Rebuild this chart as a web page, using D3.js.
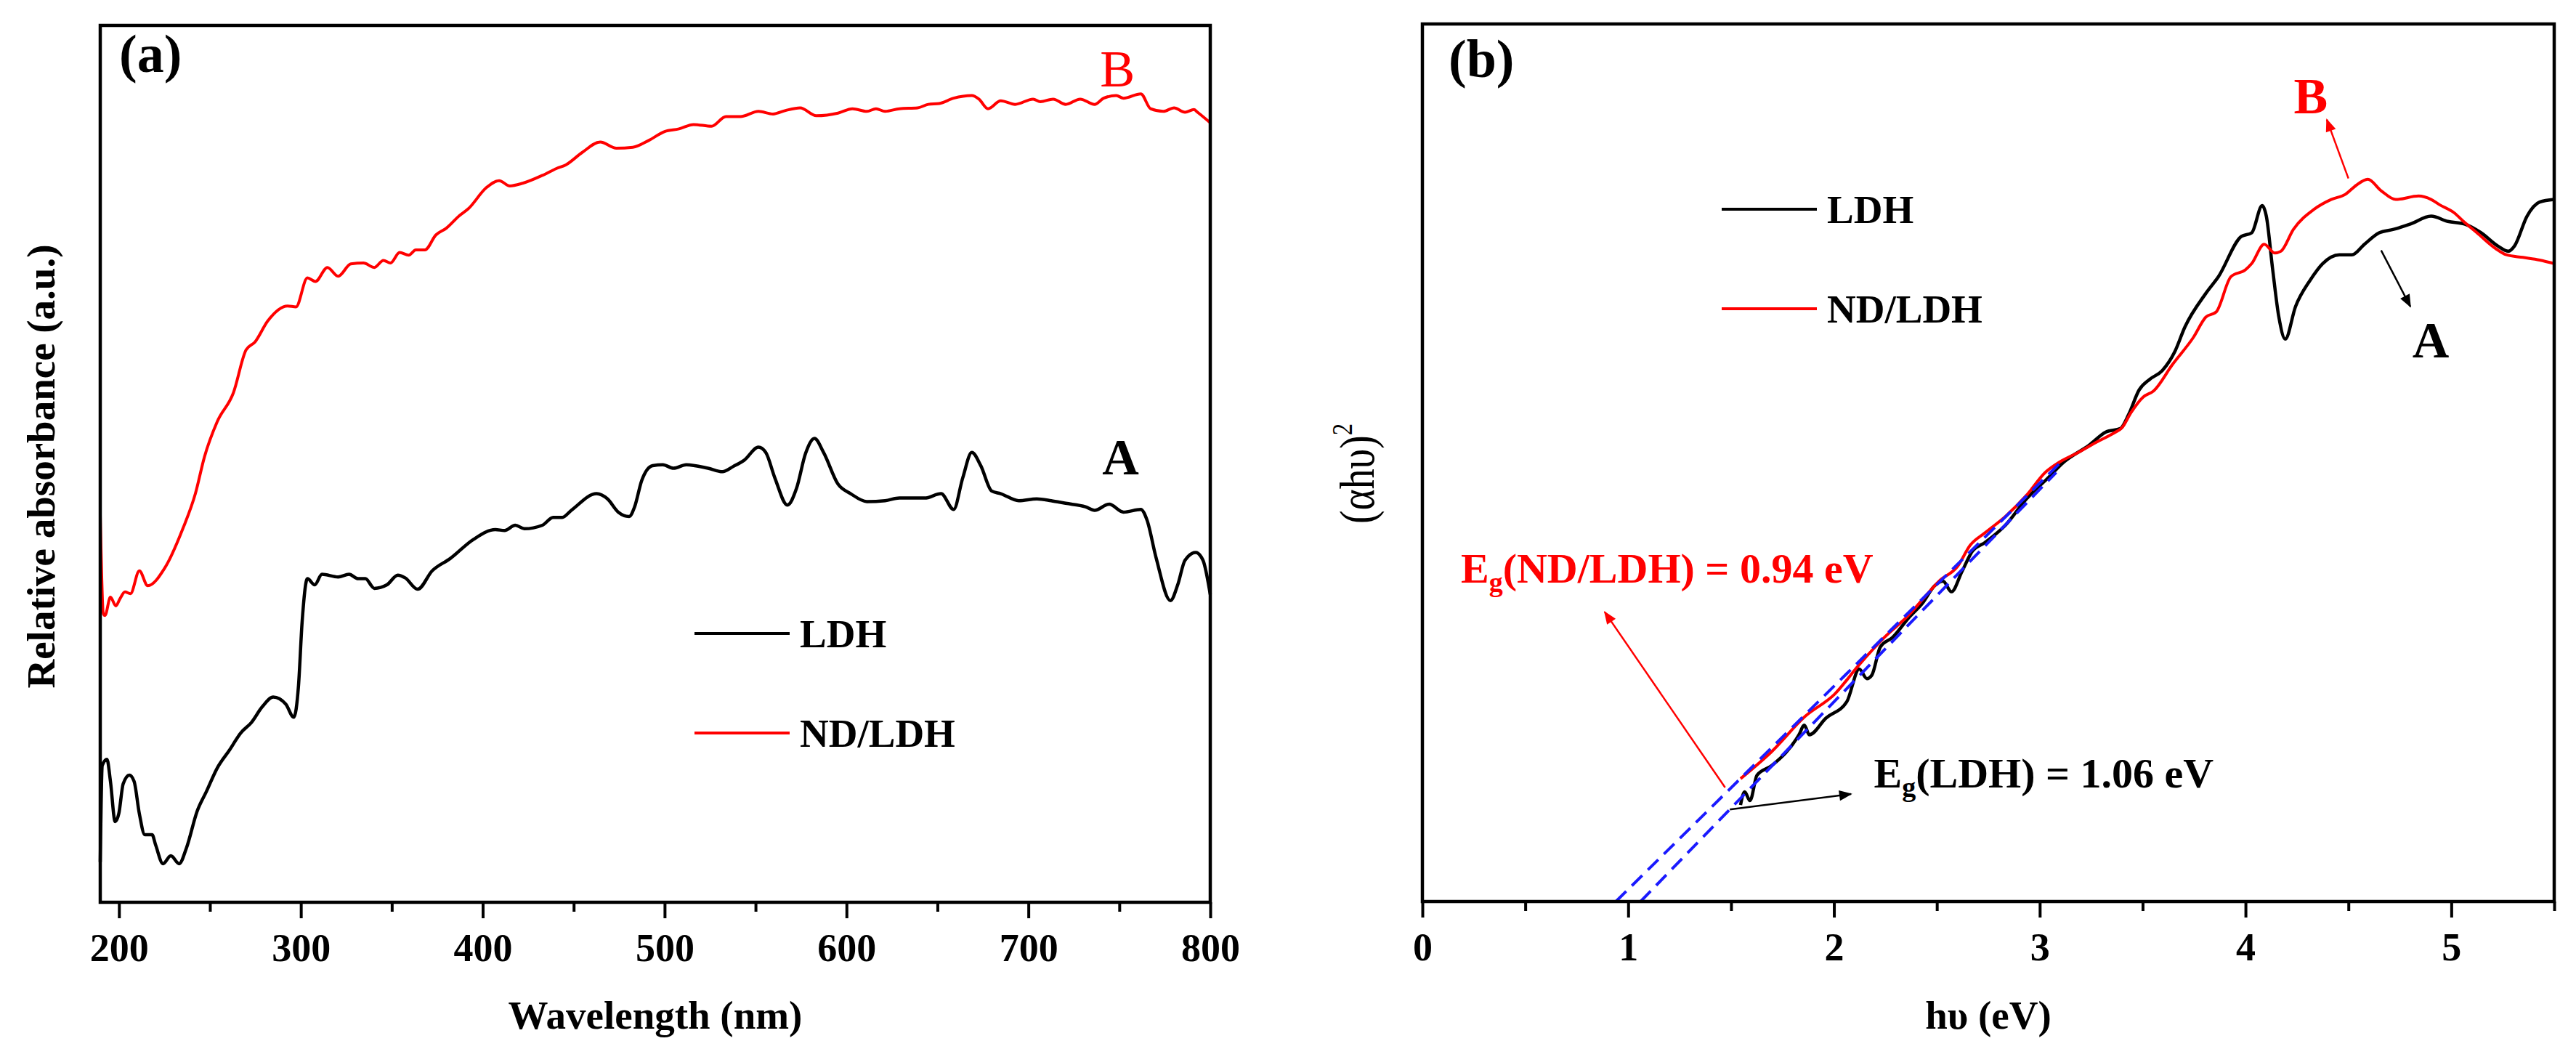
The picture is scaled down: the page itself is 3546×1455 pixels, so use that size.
<!DOCTYPE html>
<html>
<head>
<meta charset="utf-8">
<script src="https://cdn.jsdelivr.net/npm/d3@7"></script>
<style>
  body { margin: 0; background: #fff; }
  text { font-family: "Liberation Serif", "Times New Roman", serif; }
</style>
</head>
<body>
<div id="chart"></div>
<script>
// ---- panel (a): relative absorbance vs wavelength ----
ticksA = [200, 300, 400, 500, 600, 700, 800]
minorA = [250, 350, 450, 550, 650, 750]

ldhA = [[189.7,4.6],[190.8,15.6],[193.4,16.3],[195.3,13.8],[197.9,9.2],[199.9,10.1],[202.3,13.5],[205.7,14.5],[208.3,13.8],[211.2,10.1],[214.2,7.7],[218.2,7.7],[220.2,6.5],[224.2,4.4],[228.5,5.3],[233.1,4.4],[237.1,6.2],[243,10.4],[248,12.6],[254,15.3],[260.9,17.4],[266.9,19.3],[272.8,20.5],[278.8,22.3],[284.8,23.4],[291.7,22.6],[296.1,21.1],[298.7,24.7],[300.7,32.0],[303.6,36.9],[307.6,36.2],[311.6,37.4],[320.5,37.1],[326.5,37.4],[331.5,36.9],[335.5,36.9],[340.4,35.8],[347.3,36.2],[353.3,37.3],[357.3,37.0],[364.2,35.7],[372.2,37.8],[382.1,39.2],[395,41.4],[406.9,42.5],[412,42.4],[417.9,43.0],[422.9,42.6],[432.8,43.0],[438.7,43.9],[443.7,43.9],[448.7,44.7],[462.6,46.6],[468.6,46.0],[474.5,44.5],[480.5,44.0],[483.5,45.1],[487.4,48.1],[493.4,49.8],[499,49.9],[504.9,49.5],[511.9,49.9],[523.8,49.5],[531.8,49.1],[537.7,49.7],[543.7,50.4],[551.6,51.9],[555.6,51.3],[560.6,48.4],[567.5,45.3],[572.5,47.2],[577.5,51.2],[582.4,52.9],[587.4,51.3],[595.3,47.7],[602.3,46.6],[611.2,45.7],[621.2,45.8],[629.1,46.1],[643,46.1],[652,46.6],[658.9,44.8],[663.9,48.4],[668.9,51.3],[673.8,49.8],[679.8,46.9],[684.8,46.6],[694.7,45.8],[704.6,46.0],[712.5,45.8],[720.5,45.5],[731.4,45.1],[736.4,44.7],[744.4,45.4],[752.3,44.5],[761.8,44.8],[765.2,43.6],[770.2,39.3],[778.1,34.4],[782.1,36.2],[786.1,39.0],[792,39.9],[796,39.0],[800,35.1]]

ndA = [[189.7,44.2],[191.4,32.9],[192.3,32.7],[195.3,34.8],[198.3,33.8],[200.5,34.6],[203.3,35.4],[206.3,35.2],[211.2,37.8],[215.8,36.1],[225.1,38.1],[235.1,42.6],[242,46.6],[247,50.8],[254,54.8],[262.9,58.1],[269.9,63.0],[274.8,63.9],[281.8,66.3],[292.7,68.0],[297.3,67.9],[303.6,71.2],[308,70.8],[314.6,72.4],[320.5,71.4],[327.5,72.8],[334.4,72.9],[340.4,72.4],[345.4,73.2],[349.3,72.9],[354.3,74.1],[359.3,73.8],[363.2,74.4],[368.2,74.4],[374.2,76.1],[380.1,76.9],[387.1,78.3],[392.1,79.1],[402,81.5],[409,82.3],[414.9,81.7],[421.9,82.0],[432.8,82.9],[440.7,83.7],[445.7,84.1],[454.6,85.5],[464.6,86.7],[473.5,86.0],[482.5,86.1],[491.4,86.9],[500,87.9],[507.9,88.2],[515.9,88.7],[525.8,88.5],[533.7,89.6],[541.7,89.6],[551.6,90.2],[559.6,89.9],[566.5,90.3],[574.5,90.6],[583.4,89.7],[595.3,90.0],[603.3,90.5],[611.2,90.2],[616.2,90.5],[621.2,90.2],[629.1,90.5],[639.1,90.6],[645,91.0],[651,91.1],[658.9,91.7],[668.9,92.0],[672.8,91.6],[677.8,90.5],[684.8,91.4],[692.7,91.0],[702.6,91.6],[706.6,91.3],[713.6,91.6],[720.5,91.0],[728.5,91.6],[736.4,91.0],[741.4,91.7],[748.3,92.0],[752.3,91.7],[761.8,92.2],[767.2,90.5],[774.2,90.2],[780.1,90.6],[786.1,90.1],[791.1,90.4],[793,90.1],[800,88.9]]

// ---- panel (b): Tauc plot ----
ticksB = [0, 1, 2, 3, 4, 5]
minorB = [0.5, 1.5, 2.5, 3.5, 4.5, 5.5]

ldhB = [[1.546,11.0],[1.566,12.5],[1.592,11.5],[1.626,14.4],[1.698,15.5],[1.830,19.0],[1.856,20.1],[1.880,19.0],[1.961,20.9],[2.063,22.8],[2.123,26.5],[2.160,25.4],[2.184,25.8],[2.225,29.0],[2.285,30.1],[2.366,32.4],[2.43,34.0],[2.490,36.0],[2.530,36.5],[2.571,35.3],[2.622,37.6],[2.672,39.9],[2.733,40.9],[2.834,42.9],[2.936,45.9],[3.037,48.2],[3.118,50.1],[3.240,52.0],[3.321,53.5],[3.392,53.9],[3.432,55.5],[3.483,58.3],[3.534,59.5],[3.595,60.5],[3.655,62.6],[3.706,65.5],[3.807,69.3],[3.868,71.2],[3.980,75.8],[4.030,76.2],[4.081,79.3],[4.101,78.1],[4.132,72.0],[4.162,66.6],[4.193,64.1],[4.243,67.8],[4.314,70.8],[4.375,72.7],[4.456,73.7],[4.517,73.7],[4.578,74.9],[4.649,76.2],[4.720,76.6],[4.801,77.2],[4.902,78.1],[4.983,77.5],[5.064,77.2],[5.145,76.2],[5.226,74.7],[5.277,74.1],[5.307,74.7],[5.368,78.1],[5.429,79.7],[5.5,80.0]]

ndB = [[1.546,14.0],[1.698,17.1],[1.860,21.1],[2.002,23.6],[2.123,27.0],[2.245,30.1],[2.366,32.7],[2.43,34.4],[2.510,36.5],[2.601,38.2],[2.662,40.6],[2.733,42.0],[2.834,43.9],[2.936,46.3],[3.027,48.9],[3.098,50.1],[3.189,51.2],[3.280,52.4],[3.361,53.4],[3.40,54.0],[3.443,55.7],[3.503,57.5],[3.554,58.2],[3.645,61.2],[3.747,64.3],[3.807,66.6],[3.858,67.2],[3.929,71.2],[4.0,72.0],[4.030,72.7],[4.091,74.9],[4.142,73.9],[4.172,74.1],[4.233,76.6],[4.334,78.9],[4.416,80.0],[4.486,80.6],[4.537,81.6],[4.594,82.3],[4.659,81.0],[4.730,80.0],[4.841,80.4],[4.902,80.0],[4.943,79.4],[5.013,78.5],[5.064,77.4],[5.125,76.2],[5.216,74.4],[5.267,73.7],[5.348,73.4],[5.429,73.1],[5.5,72.7]]

// linear fits extrapolated to the energy axis
fitND = [[0.94, 0], [3.10, 50.0]]
fitLDH = [[1.06, 0], [3.08, 48.9]]

seriesNames = ["LDH", "ND/LDH"]
seriesColors = ["#000000", "#ff0000"]

const W = 3546, H = 1455;
const svg = d3.select("#chart").append("svg")
  .attr("width", W).attr("height", H);

const defs = svg.append("defs");
[["arrRed", "#ff0000"], ["arrBlack", "#000000"]].forEach(function (m) {
  defs.append("marker")
    .attr("id", m[0])
    .attr("viewBox", "0 0 10 10")
    .attr("refX", 9).attr("refY", 5)
    .attr("markerUnits", "userSpaceOnUse")
    .attr("markerWidth", 24).attr("markerHeight", 18)
    .attr("orient", "auto")
    .append("path")
    .attr("d", "M0,1 L10,5 L0,9 Z")
    .attr("fill", m[1]);
});

xa = d3.scaleLinear().domain([189.7, 800]).range([138, 1666])
ya = d3.scaleLinear().domain([0, 100]).range([1242, 35])
xb = d3.scaleLinear().domain([0, 5.5]).range([1958, 3516])
yb = d3.scaleLinear().domain([0, 100]).range([1241, 33])

function frame(x, y) {
  svg.append("rect")
    .attr("x", x.range()[0]).attr("y", y.range()[1])
    .attr("width", x.range()[1] - x.range()[0])
    .attr("height", y.range()[0] - y.range()[1])
    .attr("fill", "none").attr("stroke", "#000").attr("stroke-width", 4.5);
}

function xAxis(x, y, major, minor, fmt) {
  const g = svg.append("g").attr("transform", "translate(0," + y.range()[0] + ")");
  g.append("g")
    .call(d3.axisBottom(x).tickValues(minor).tickSize(13).tickFormat(""))
    .call(s => s.select(".domain").remove())
    .selectAll("line").attr("stroke-width", 4);
  const mg = g.append("g")
    .call(d3.axisBottom(x).tickValues(major).tickSize(22).tickFormat(fmt))
    .call(s => s.select(".domain").remove());
  mg.selectAll("line").attr("stroke-width", 4);
  mg.selectAll("text")
    .attr("y", 81).attr("dy", 0)
    .attr("font-size", 54).attr("font-weight", "bold")
    .attr("font-family", "Liberation Serif, Times New Roman, serif")
    .attr("fill", "#000");
}

function drawLine(data, x, y, color, w) {
  svg.append("path")
    .datum(data)
    .attr("fill", "none")
    .attr("stroke", color)
    .attr("stroke-width", w)
    .attr("stroke-linejoin", "round")
    .attr("d", d3.line().curve(d3.curveMonotoneX)
      .x(d => x(d[0])).y(d => y(d[1])));
}

function legend(x0, y0) {
  seriesNames.forEach(function (n, i) {
    svg.append("line")
      .attr("x1", x0).attr("x2", x0 + 131)
      .attr("y1", y0 + i * 137).attr("y2", y0 + i * 137)
      .attr("stroke", seriesColors[i]).attr("stroke-width", 4);
    svg.append("text")
      .attr("x", x0 + 145).attr("y", y0 + i * 137 + 19)
      .attr("font-size", 55).attr("font-weight", "bold")
      .text(n);
  });
}

function label(x, y, t, color, size) {
  return svg.append("text")
    .attr("x", x).attr("y", y)
    .attr("font-size", size).attr("font-weight", "bold")
    .attr("fill", color).text(t);
}

function arrow(x, y, p, q, color, id) {
  svg.append("line")
    .attr("x1", x(p[0])).attr("y1", y(p[1]))
    .attr("x2", x(q[0])).attr("y2", y(q[1]))
    .attr("stroke", color).attr("stroke-width", 2.5)
    .attr("marker-end", "url(#" + id + ")");
}

// ---------- panel (a) ----------
drawLine(ldhA, xa, ya, "#000", 4.5)
drawLine(ndA, xa, ya, "#ff0000", 4)
frame(xa, ya)
xAxis(xa, ya, ticksA, minorA, d3.format("d"))
legend(956, 872)
label(164, 99, "(a)", "#000", 74)
label(xa(739.4), ya(93.0), "B", "#ff0000", 72).attr("font-weight", "normal")
label(xa(740.6), ya(48.8), "A", "#000", 70)

svg.append("text")
  .attr("x", 902).attr("y", 1416)
  .attr("text-anchor", "middle")
  .attr("font-size", 55).attr("font-weight", "bold")
  .text("Wavelength (nm)")
svg.append("text")
  .attr("transform", "translate(75,642) rotate(-90)")
  .attr("text-anchor", "middle")
  .attr("font-size", 55).attr("font-weight", "bold")
  .text("Relative absorbance (a.u.)")

// ---------- panel (b) ----------
drawLine(ldhB, xb, yb, "#000", 4.5)
drawLine(ndB, xb, yb, "#ff0000", 4)
;[fitND, fitLDH].forEach(function (f) {
  svg.append("path")
    .datum(f)
    .attr("fill", "none")
    .attr("stroke", "#1a1aff")
    .attr("stroke-width", 4)
    .attr("stroke-dasharray", "20,11")
    .attr("d", d3.line().x(d => xb(d[0])).y(d => yb(d[1])));
});
frame(xb, yb)
xAxis(xb, yb, ticksB, minorB, d3.format("d"))
legend(2370, 288)
label(1994, 106, "(b)", "#000", 74)
label(xb(4.234), yb(89.8), "B", "#ff0000", 70)
label(xb(4.811), yb(62.0), "A", "#000", 70)
arrow(xb, yb, [4.500, 82.4], [4.395, 89.1], "#ff0000", "arrRed")
arrow(xb, yb, [4.659, 74.2], [4.801, 67.8], "#000", "arrBlack")
arrow(xb, yb, [1.471, 13.0], [0.886, 33.0], "#ff0000", "arrRed")
arrow(xb, yb, [1.494, 10.5], [2.083, 12.25], "#000", "arrBlack")

const eg1 = label(xb(0.187), yb(36.3), "", "#ff0000", 58);
eg1.append("tspan").text("E");
eg1.append("tspan").attr("font-size", 38).attr("dy", 12).text("g");
eg1.append("tspan").attr("dy", -12).text("(ND/LDH) = 0.94 eV");

const eg2 = label(xb(2.194), yb(13.0), "", "#000", 58);
eg2.append("tspan").text("E");
eg2.append("tspan").attr("font-size", 38).attr("dy", 12).text("g");
eg2.append("tspan").attr("dy", -12).text("(LDH) = 1.06 eV");

svg.append("text")
  .attr("x", 2737).attr("y", 1416)
  .attr("text-anchor", "middle")
  .attr("font-size", 55).attr("font-weight", "bold")
  .text("hυ (eV)")
const yt = svg.append("text")
  .attr("transform", "translate(1891,652) rotate(-90) scale(0.82,1)")
  .attr("text-anchor", "middle")
  .attr("font-size", 68)
yt.append("tspan").text("(αhυ)")
yt.append("tspan").attr("font-size", 40).attr("dy", -30).text("2")
</script>
</body>
</html>
